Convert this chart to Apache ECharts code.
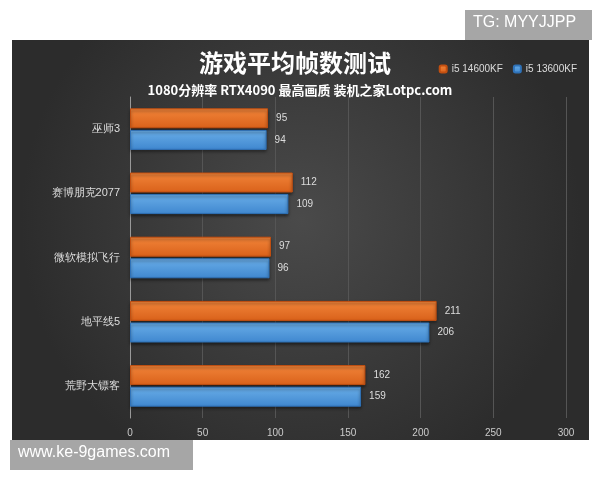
<!DOCTYPE html>
<html><head><meta charset="utf-8">
<script src="https://cdn.jsdelivr.net/npm/echarts@6/dist/echarts.min.js"></script>
<style>html,body{margin:0;background:#fff}#c{width:600px;height:480px}</style>
</head><body><div id="c"></div>
<script>
const categories = ['巫师3','赛博朋克2077','微软模拟飞行','地平线5','荒野大镖客'];
const s14600 = [95,112,97,211,162];
const s13600 = [94,109,96,206,159];
const xTicks = [0,50,100,150,200,250,300];
const chart = echarts.init(document.getElementById('c'));
const f = '"Noto Sans CJK SC", sans-serif';
chart.setOption({
  animation:false,
  graphic:[
    {type:'rect',z:-10,shape:{x:12,y:40,width:577,height:400},style:{fill:new echarts.graphic.RadialGradient(0.5,0.45,0.7,[{offset:0,color:'#4a4a4a'},{offset:1,color:'#2c2c2c'}])}},
    {type:'rect',z:10,shape:{x:465,y:10,width:127,height:30},style:{fill:'#a6a6a6'}},
    {type:'text',z:11,left:473,top:15,style:{text:'TG: MYYJJPP',fill:'#fff',font:'16px "Liberation Sans", sans-serif'}},
    {type:'rect',z:10,shape:{x:10,y:440,width:183,height:30},style:{fill:'#a6a6a6'}},
    {type:'text',z:11,left:18,top:445,style:{text:'www.ke-9games.com',fill:'#fff',font:'16px "Liberation Sans", sans-serif'}}
  ],
  title:[
    {text:'游戏平均帧数测试',left:290,top:46,textAlign:'center',textStyle:{color:'#fff',fontSize:24,fontWeight:'bold',fontFamily:f}},
    {text:'1080分辨率 RTX4090 最高画质 装机之家Lotpc.com',left:295,top:79,textAlign:'center',textStyle:{color:'#fff',fontSize:13,fontWeight:'bold',fontFamily:f}}
  ],
  legend:{right:18,top:59,itemWidth:7,itemHeight:7,itemGap:10,textStyle:{color:'#ddd',fontSize:10},data:['i5 14600KF','i5 13600KF']},
  grid:{left:130,right:34,top:97,bottom:62},
  xAxis:{type:'value',min:0,max:300,interval:50,
    axisLabel:{color:'#ccc',fontSize:10,margin:10},
    splitLine:{lineStyle:{color:'#555'}},axisLine:{show:false},axisTick:{show:false}},
  yAxis:{type:'category',inverse:true,data:categories,
    axisLabel:{color:'#ddd',fontSize:11,margin:10},
    axisLine:{lineStyle:{color:'#999'}},axisTick:{show:false}},
  series:[
    {name:'i5 14600KF',type:'bar',data:s14600,barWidth:20,barGap:'8%',
     itemStyle:{color:new echarts.graphic.LinearGradient(0,0,0,1,[{offset:0,color:'#f2853a'},{offset:1,color:'#d9611a'}]),borderColor:'#c24f10',borderWidth:1,shadowColor:'rgba(0,0,0,0.5)',shadowBlur:3,shadowOffsetY:2},
     label:{show:true,position:'right',color:'#ddd',fontSize:10,distance:8}},
    {name:'i5 13600KF',type:'bar',data:s13600,barWidth:20,
     itemStyle:{color:new echarts.graphic.LinearGradient(0,0,0,1,[{offset:0,color:'#6aaee8'},{offset:1,color:'#3f87cf'}]),borderColor:'#2f72b8',borderWidth:1,shadowColor:'rgba(0,0,0,0.5)',shadowBlur:3,shadowOffsetY:2},
     label:{show:true,position:'right',color:'#ddd',fontSize:10,distance:8}}
  ]
});
</script></body></html>
